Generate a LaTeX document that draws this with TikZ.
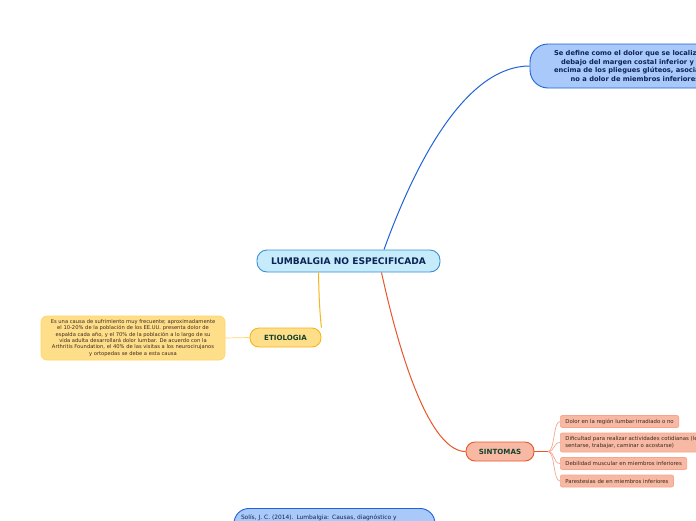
\documentclass[tikz,border=0pt]{standalone}
\usepackage{fontspec}
\setmainfont{DejaVu Sans}
\usetikzlibrary{positioning}

\definecolor{rootfill}{HTML}{C6ECFC}
\definecolor{rootline}{HTML}{3B8ED6}
\definecolor{navytext}{HTML}{0D2456}
\definecolor{defnfill}{HTML}{A8C9FA}
\definecolor{defnline}{HTML}{1F63D6}
\definecolor{etifill}{HTML}{FFDE8A}
\definecolor{etiline}{HTML}{F5B51C}
\definecolor{etilight}{HTML}{FFD667}
\definecolor{sinfill}{HTML}{F8B9A4}
\definecolor{sinline}{HTML}{E9552A}
\definecolor{sinlight}{HTML}{F6A68E}
\definecolor{greentext}{HTML}{12432E}
\definecolor{browntext}{HTML}{3A2A1E}

\tikzset{
  rootbox/.style={draw=rootline, fill=rootfill, line width=0.9pt, rounded corners=10pt,
    text=navytext, font=\fontsize{9.1}{10}\selectfont\bfseries, inner sep=0pt},
  defnbox/.style={draw=defnline, fill=defnfill, line width=0.9pt, rounded corners=18pt,
    text=navytext, font=\fontsize{6.7}{8.6}\selectfont\bfseries, align=center, inner sep=0pt},
  mainbox/.style={line width=0.9pt, rounded corners=9pt, text=greentext,
    font=\fontsize{7.1}{8}\selectfont\bfseries, inner sep=0pt},
  notebox/.style={draw=etilight, fill=etifill, line width=0.7pt, rounded corners=6pt,
    text=browntext, font=\fontsize{5.2}{6.3}\selectfont, align=center, inner sep=0pt},
  leafbox/.style={draw=sinlight, fill=sinfill, line width=0.7pt, rounded corners=2pt,
    text=browntext, font=\fontsize{5.4}{6.6}\selectfont, align=left, anchor=west,
    inner xsep=5pt, inner ysep=0pt},
  leafline/.style={draw=sinlight, line width=0.7pt},
}

\begin{document}
\begin{tikzpicture}[x=1pt, y=-1pt]
  \fill[white] (0,0) rectangle (696,520);
  \useasboundingbox (0,0) rectangle (696,520);
  \clip (0,0) rectangle (696,520);

  \node[rootbox, minimum width=183pt, minimum height=22pt] (lumbalgia) at (348.5,261) {LUMBALGIA NO ESPECIFICADA};
  \node[defnbox, minimum width=210pt, minimum height=44pt] (definicion) at (635,66)
    {Se define como el dolor que se localiza por\\debajo del margen costal inferior y por\\encima de los pliegues glúteos, asociado o\\no a dolor de miembros inferiores};
  \node[mainbox, draw=etiline, fill=etifill, minimum width=71pt, minimum height=19pt] (etiologia) at (285.5,337.5) {ETIOLOGIA};
  \node[notebox, minimum width=184pt, minimum height=44pt] (causa) at (133,338)
    {Es una causa de sufrimiento muy frecuente; aproximadamente\\el 10-20\% de la población de los EE.UU. presenta dolor de\\espalda cada año, y el 70\% de la población a lo largo de su\\vida adulta desarrollará dolor lumbar. De acuerdo con la\\Arthritis Foundation, el 40\% de las visitas a los neurocirujanos\\y ortopedas se debe a esta causa};
  \node[mainbox, draw=sinline, fill=sinfill, minimum width=68pt, minimum height=19pt] (sintomas) at (500,451.5) {SINTOMAS};
  \node[leafbox, minimum height=12pt] (dolor) at (560,421.5) {Dolor en la región lumbar irradiado o no};
  \node[leafbox, minimum height=19pt] (dificultad) at (560,442.5) {Dificultad para realizar actividades cotidianas (levantarse,\\sentarse, trabajar, caminar o acostarse)};
  \node[leafbox, minimum height=12pt] (debilidad) at (560,463.5) {Debilidad muscular en miembros inferiores};
  \node[leafbox, minimum height=12pt] (parestesias) at (560,481) {Parestesias de en miembros inferiores};
  \node[draw=defnline, fill=defnfill, line width=0.9pt, rounded corners=15pt, anchor=north,
    minimum width=201pt, text=navytext, font=\fontsize{5.9}{7}\selectfont,
    text width=187pt, text depth=25pt, align=left, inner xsep=7pt, inner ysep=6.5pt] (solis) at (334.5,508)
    {Solís, J. C. (2014). Lumbalgia: Causas, diagnóstico y};

  \coordinate (rama) at (548,451.5);

  \draw[defnline, line width=1pt] ([xshift=35.5pt]lumbalgia.north) .. controls (420,150) and (470,66) .. (definicion.west);
  \draw[sinline, line width=1pt] ([xshift=33pt]lumbalgia.south) .. controls (405,380) and (435,451.5) .. (sintomas.west);
  \draw[etiline, line width=1pt] ([xshift=-30pt]lumbalgia.south) .. controls (319,300) and (320,315) .. (etiologia.north east);
  \draw[etilight, line width=0.7pt] (causa.east) -- (etiologia.west);
  \draw[sinline, line width=1pt] (sintomas.east) -- (rama);
  \foreach \hoja in {dolor, dificultad, debilidad, parestesias}
    \draw[leafline] (rama) .. controls +(7,0) and +(-7,0) .. (\hoja.west);
\end{tikzpicture}
\end{document}
